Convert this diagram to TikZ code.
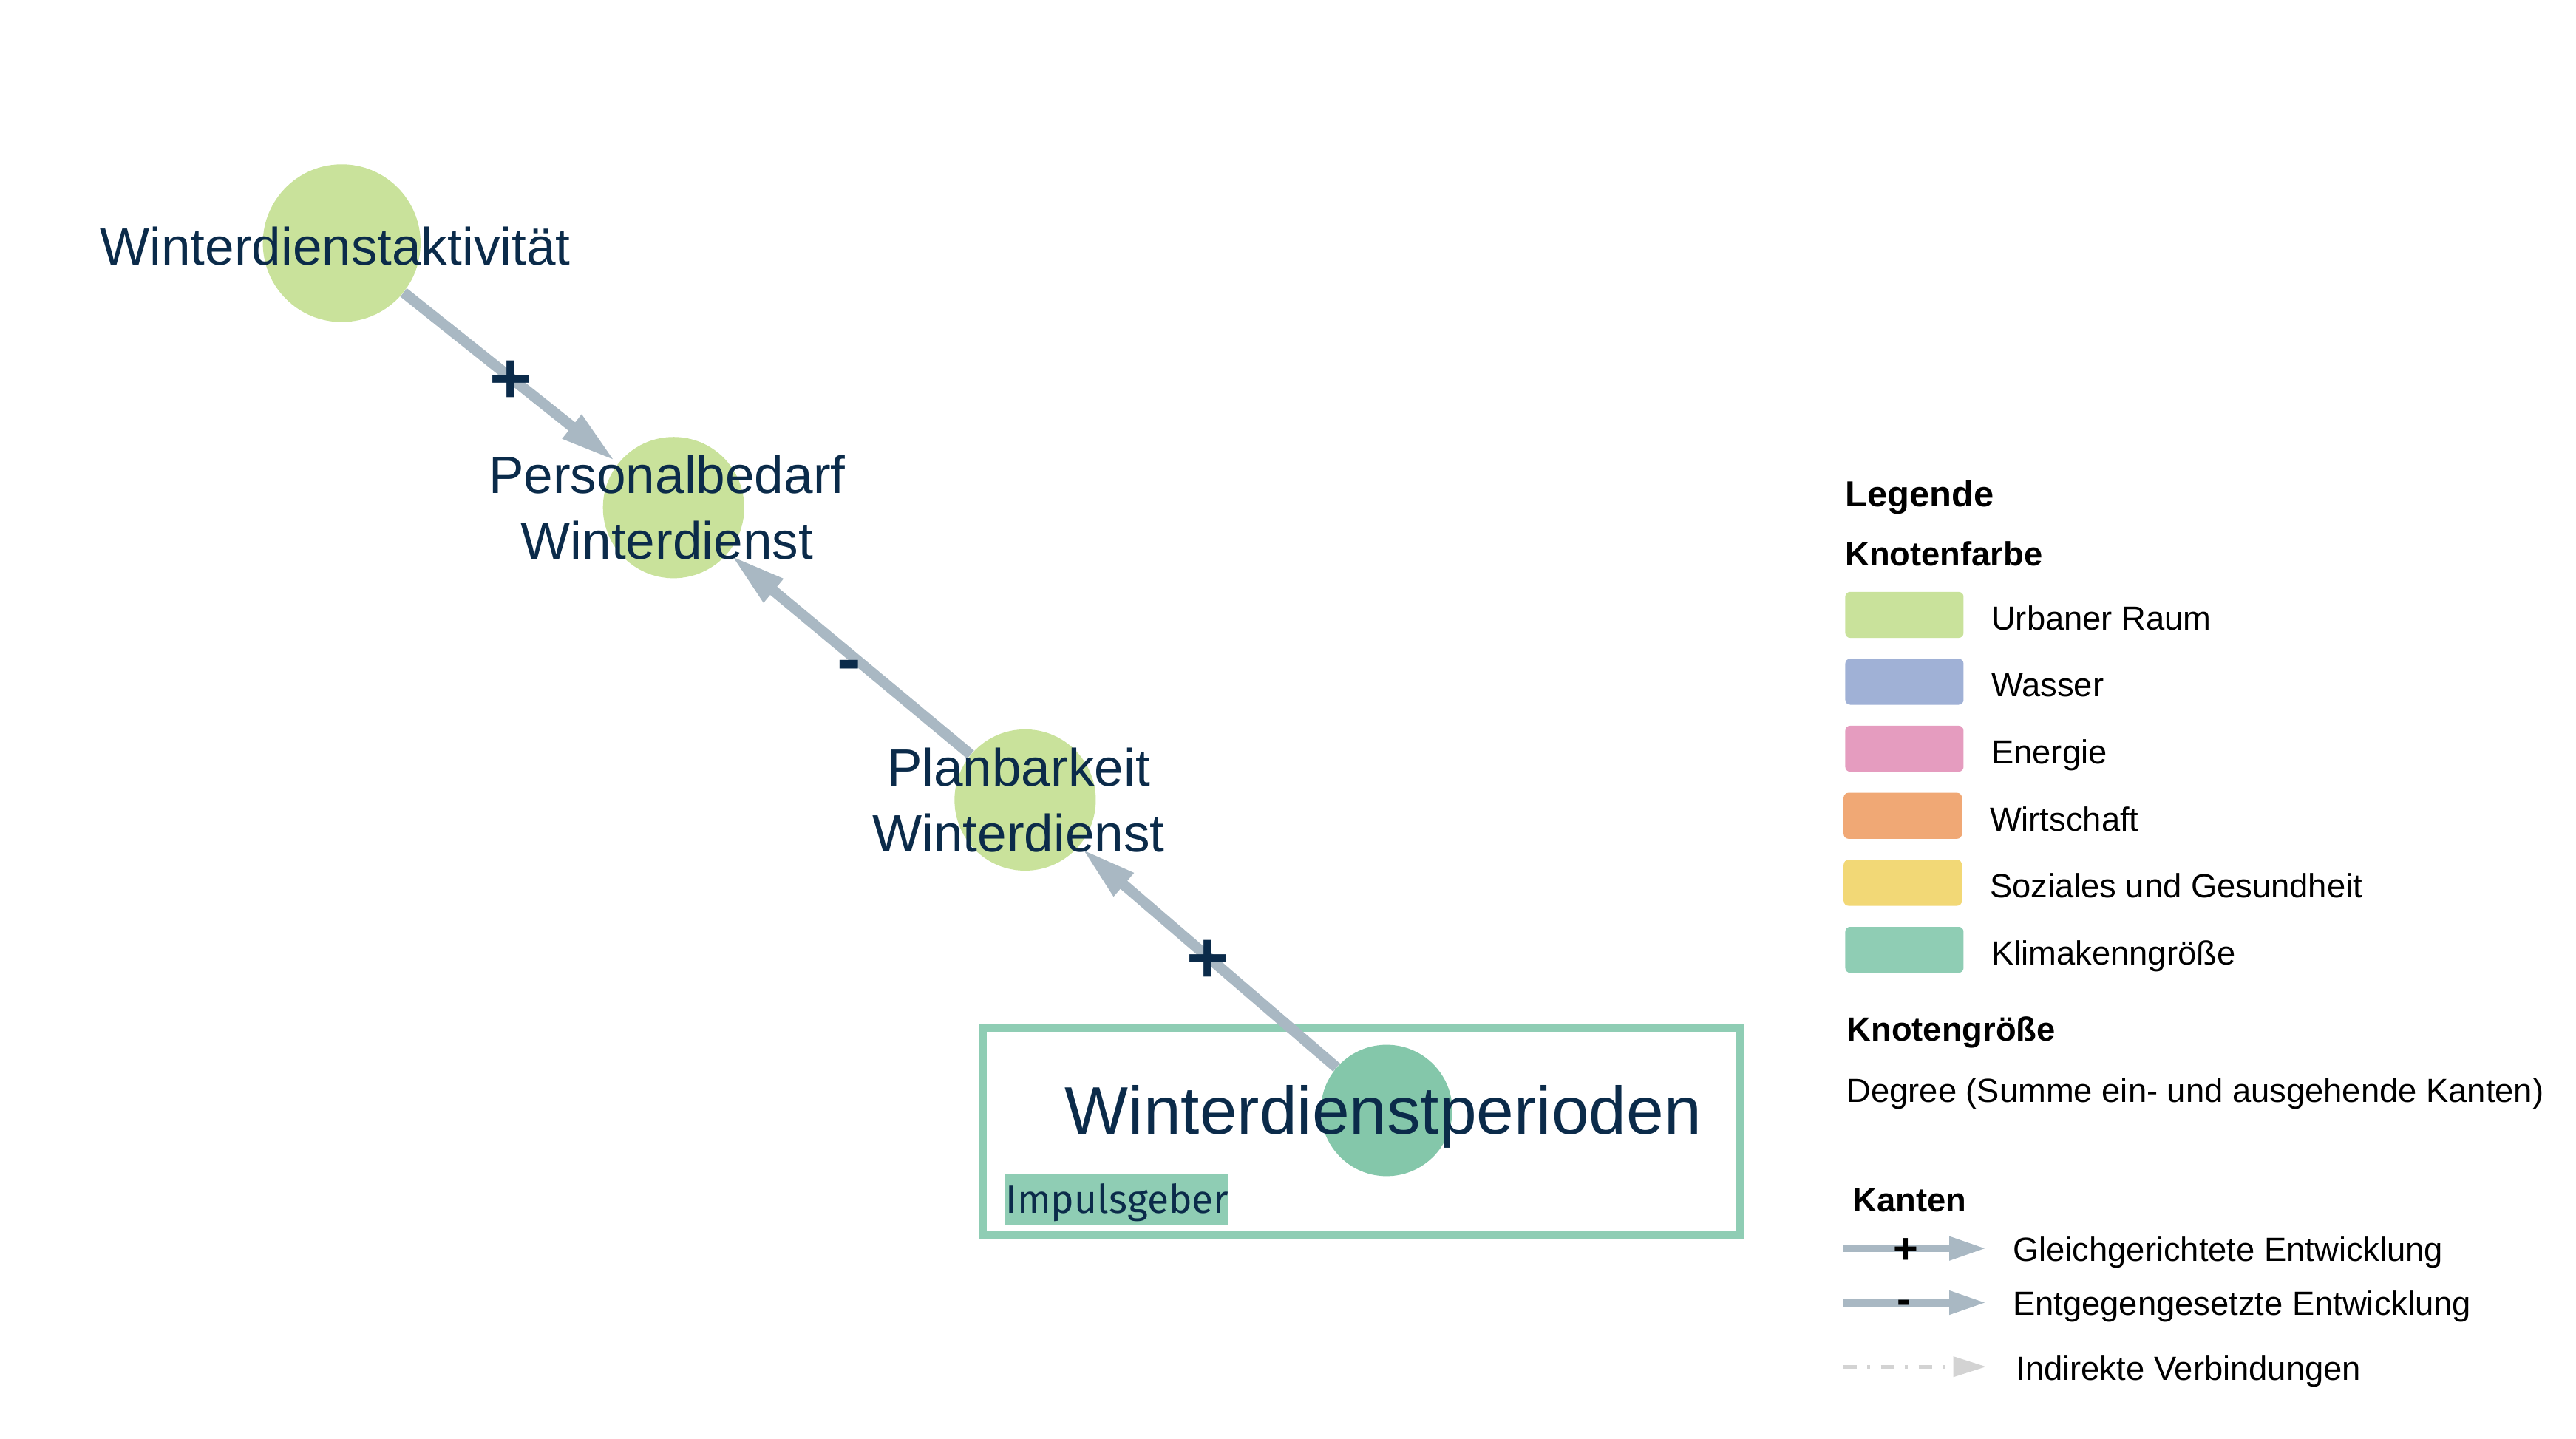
\documentclass[tikz,border=0pt]{standalone}
\usepackage{fontspec}
\setmainfont{Liberation Sans}
\newfontfamily\impulsfont{Fira Sans}
\usetikzlibrary{arrows.meta}
\definecolor{urbangreen}{HTML}{C9E29B}
\definecolor{wasserblue}{HTML}{A0B1D6}
\definecolor{energiepink}{HTML}{E59CBF}
\definecolor{wirtschaftorange}{HTML}{F0A875}
\definecolor{sozialyellow}{HTML}{F2D876}
\definecolor{klimagreen}{HTML}{8FCDB4}
\definecolor{klimanode}{HTML}{84C7AA}
\definecolor{edgegray}{HTML}{A9B8C3}
\definecolor{indirektgray}{HTML}{D3D3D3}
\definecolor{navy}{HTML}{0B2B4A}
\tikzstyle{vertex}=[circle,fill=urbangreen,inner sep=0pt]

\begin{document}
\begin{tikzpicture}[x=1pt,y=-1pt]
    \tikzstyle{vlabel}=[text=navy,font=\fontsize{32}{40}\selectfont,align=center,xshift=-4pt]
    \tikzstyle{edge}=[draw=edgegray,line width=6.5pt,-{Triangle[length=34pt,width=17pt]},shorten >=2pt]
    \tikzstyle{sign}=[text=navy,font=\fontsize{44}{44}\selectfont\bfseries,inner sep=0pt,text height=31pt,text depth=0pt]
    \tikzstyle{swatch}=[rounded corners=3pt,minimum width=72pt,minimum height=28pt,anchor=west,inner sep=0pt]
    \tikzstyle{legtext}=[anchor=west,inner sep=0pt,text height=14.5pt,text depth=0pt,font=\fontsize{20.4}{20.4}\selectfont]
    \tikzstyle{leghead}=[legtext,font=\fontsize{20.4}{20.4}\selectfont\bfseries]
    \tikzstyle{legedge}=[draw=edgegray,line width=4.5pt,-{Triangle[length=22.5pt,width=13.5pt]}]
    \tikzstyle{legsign}=[font=\fontsize{26}{26}\selectfont\bfseries,inner sep=0pt,text height=18.5pt,text depth=0pt]
    \useasboundingbox (0,0) rectangle (1568,876);

    % Impulsgeber
    \node[draw=klimagreen,line width=4.5pt,minimum width=460.5pt,minimum height=126pt,inner sep=0pt] (box) at (828.75,689) {};
    \node[fill=klimagreen,text=navy,font=\impulsfont\fontsize{24}{24}\selectfont,inner sep=0pt,
          minimum width=134pt,minimum height=30.5pt,text height=17pt,text depth=0pt] (imp) at (680,730.25) {Impulsgeber};

    \node[vertex,minimum size=96pt] (WA) at (208,148) {};
    \node[vertex,minimum size=86pt] (PB) at (410,309) {};
    \node[vertex,minimum size=86pt] (PW) at (624,487) {};
    \node[vertex,fill=klimanode,minimum size=80pt] (WP) at (844,676) {};

    \draw[edge] (WA) -- (PB) node[sign,midway] {+};
    \draw[edge] (PW) -- (PB) node[sign,midway,text height=36pt] {-};
    \draw[edge] (WP) -- (PW) node[sign,midway] {+};

    \node[vlabel,yshift=-2pt] (WAl) at (WA) {Winterdienstaktivität};
    \node[vlabel] (PBl) at (PB) {Personalbedarf\\Winterdienst};
    \node[vlabel] (PWl) at (PW) {Planbarkeit\\Winterdienst};
    \node[vlabel,font=\fontsize{41}{40}\selectfont,xshift=2pt,yshift=-4pt] (WPl) at (WP) {Winterdienstperioden};

    % Legende
    \node[leghead,font=\fontsize{22}{22}\selectfont\bfseries,text height=15.7pt] (leg) at (1123,300.5) {Legende};
    \node[leghead] (farbe) at (1123,337) {Knotenfarbe};
    \node[swatch,fill=urbangreen] (s1) at (1123,374.3) {};
    \node[legtext] (t1) at (1212,376.3) {Urbaner Raum};
    \node[swatch,fill=wasserblue] (s2) at (1123,415) {};
    \node[legtext] (t2) at (1212,417) {Wasser};
    \node[swatch,fill=energiepink] (s3) at (1123,455.8) {};
    \node[legtext] (t3) at (1212,457.8) {Energie};
    \node[swatch,fill=wirtschaftorange] (s4) at (1122,496.6) {};
    \node[legtext] (t4) at (1211,498.6) {Wirtschaft};
    \node[swatch,fill=sozialyellow] (s5) at (1122,537.4) {};
    \node[legtext] (t5) at (1211,539.4) {Soziales und Gesundheit};
    \node[swatch,fill=klimagreen] (s6) at (1123,578.2) {};
    \node[legtext] (t6) at (1212,580.2) {Klimakenngröße};

    \node[leghead] (groesse) at (1124,626.6) {Knotengröße};
    \node[legtext] (degree) at (1124,664) {Degree (Summe ein- und ausgehende Kanten)};

    \node[leghead] (kanten) at (1127.5,730.6) {Kanten};
    \coordinate (g1) at (1122,760);
    \coordinate (g2) at (1209,760);
    \draw[legedge] (g1) -- (g2) node[legsign,pos=0.437] {+};
    \node[legtext] (l1) at (1225,760.5) {Gleichgerichtete Entwicklung};
    \coordinate (e1) at (1122,793);
    \coordinate (e2) at (1209,793);
    \draw[legedge] (e1) -- (e2) node[legsign,pos=0.425,text height=13.5pt] {-};
    \node[legtext] (l2) at (1225,793.5) {Entgegengesetzte Entwicklung};
    \coordinate (i1) at (1122,832);
    \coordinate (i2) at (1209,832);
    \draw[draw=indirektgray,line width=2.2pt,dash pattern=on 8.4pt off 6.3pt on 1.8pt off 6.4pt,
          -{Triangle[length=20pt,width=12pt]}] (i1) -- (i2);
    \node[legtext] (l3) at (1227,833) {Indirekte Verbindungen};
\end{tikzpicture}
\end{document}
